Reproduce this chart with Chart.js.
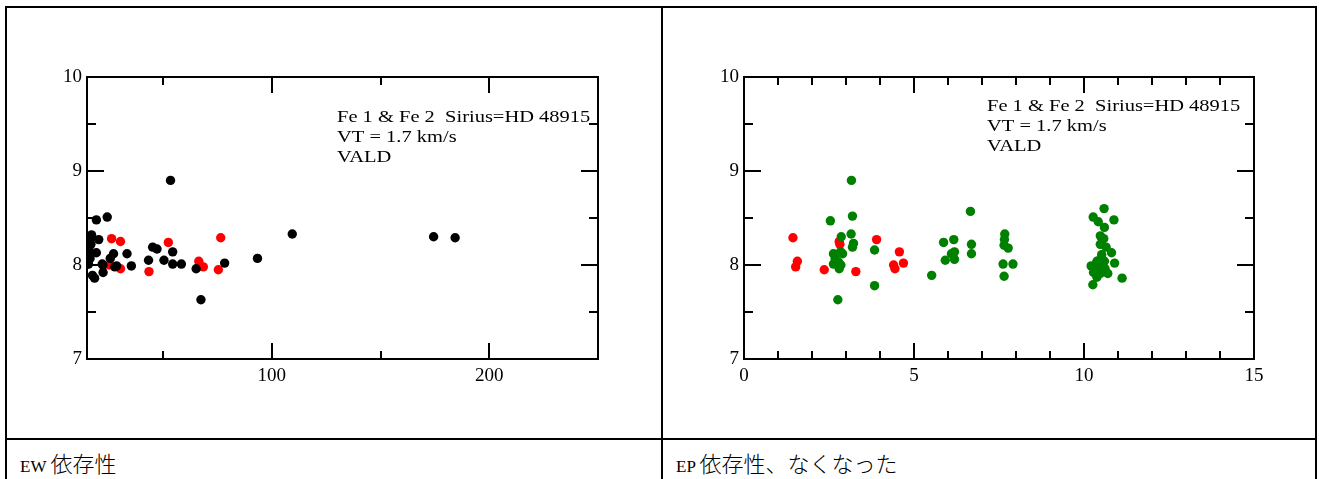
<!DOCTYPE html>
<html>
<head>
<meta charset="utf-8">
<script src="https://cdn.jsdelivr.net/npm/chart.js@4"></script>
<style>
  html, body { margin: 0; padding: 0; background: #fff; }
  body { width: 1319px; height: 479px; position: relative; overflow: hidden; }
  .line { position: absolute; background: #000; z-index: 2; }
  .cell { position: absolute; top: 0; height: 438px; }
  .caption {
    position: absolute; top: 448px; white-space: nowrap;
    font-family: "Liberation Serif", serif;
    font-size: 17px; line-height: 28px; color: #000;
  }
  .caption .jp { font-family: "Noto Sans CJK JP", sans-serif; font-size: 22px; font-weight: 300; }
</style>
</head>
<body>
<div class="line" style="left:5px; top:6px; width:1312px; height:2px;"></div>
<div class="line" style="left:5px; top:6px; width:2px; height:480px;"></div>
<div class="line" style="left:1315px; top:6px; width:2px; height:480px;"></div>
<div class="line" style="left:661px; top:6px; width:2px; height:480px;"></div>
<div class="line" style="left:5px; top:438px; width:1312px; height:2px;"></div>

<div class="cell" style="left:0px; width:660px;"><canvas id="ewChart" width="660" height="438"></canvas></div>
<div class="cell" style="left:660px; width:659px;"><canvas id="epChart" width="659" height="438"></canvas></div>

<div class="caption" style="left:20px;">EW <span class="jp">依存性</span></div>
<div class="caption" style="left:676px;">EP <span class="jp">依存性、なくなった</span></div>

<script>
// abundance vs equivalent width (Fe 1 black, Fe 2 red)
const ewFe1 = [
  [15.0, 8.01], [15.4, 8.06], [15.7, 8.01], [15.9, 8.19], [16.0, 8.14], [16.4, 8.07],
  [16.5, 8.27], [16.8, 8.22], [17.1, 8.32], [17.5, 7.89], [18.5, 7.86], [19.3, 8.48],
  [19.3, 8.13], [20.4, 8.27], [22.0, 8.01], [22.3, 8.00], [22.4, 7.92], [24.3, 8.51],
  [25.7, 8.07], [27.2, 8.12], [27.8, 7.98], [28.6, 7.99], [33.4, 8.12], [35.4, 7.99],
  [43.3, 8.05], [45.2, 8.19], [47.2, 8.17], [50.4, 8.05], [53.4, 8.90], [54.4, 8.14],
  [54.4, 8.01], [58.4, 8.01], [65.2, 7.96], [67.4, 7.63], [78.3, 8.02], [93.4, 8.07],
  [109.4, 8.33], [174.4, 8.30], [184.3, 8.29]
];
const ewFe2 = [
  [25.3, 8.00], [26.3, 8.28], [30.4, 8.25], [30.4, 7.96], [43.5, 7.93],
  [52.4, 8.24], [66.4, 8.04], [68.5, 7.98], [75.4, 7.95], [76.5, 8.29]
];

// abundance vs excitation potential (Fe 1 green, Fe 2 red)
const epFe1 = [
  [2.54, 8.47], [2.63, 8.12], [2.63, 8.01], [2.68, 8.07], [2.76, 7.63], [2.78, 8.03],
  [2.80, 7.96], [2.84, 8.14], [2.85, 8.00], [2.86, 8.30], [2.90, 8.12], [3.15, 8.33],
  [3.16, 8.90], [3.19, 8.52], [3.19, 8.19], [3.22, 8.23], [3.84, 8.16], [3.84, 7.78],
  [5.52, 7.89], [5.87, 8.24], [5.92, 8.05], [6.10, 8.12], [6.17, 8.27], [6.19, 8.14],
  [6.19, 8.06], [6.66, 8.57], [6.69, 8.22], [6.69, 8.12], [7.62, 8.01], [7.65, 8.21],
  [7.65, 7.88], [7.66, 8.27], [7.67, 8.33], [7.77, 8.18], [7.91, 8.01],
  [10.21, 7.99], [10.26, 7.79], [10.27, 8.51], [10.28, 7.92], [10.33, 7.96], [10.38, 8.04],
  [10.38, 7.87], [10.42, 8.46], [10.43, 7.99], [10.45, 7.95], [10.48, 8.31], [10.48, 8.22],
  [10.48, 8.06], [10.48, 7.91], [10.50, 8.00], [10.52, 8.11], [10.53, 7.98], [10.55, 8.02],
  [10.58, 8.28], [10.59, 8.60], [10.60, 8.40], [10.60, 8.04], [10.62, 7.96], [10.65, 8.19],
  [10.70, 7.91], [10.81, 8.13], [10.88, 8.48], [10.90, 8.02], [11.12, 7.86]
];
const epFe2 = [
  [1.44, 8.29], [1.52, 7.98], [1.57, 8.04], [2.36, 7.95], [2.80, 8.25], [2.82, 8.22],
  [3.29, 7.93], [3.90, 8.27], [4.40, 8.00], [4.44, 7.96], [4.57, 8.14], [4.69, 8.02]
];

const yTicks = [7, 7.5, 8, 8.5, 9, 9.5, 10];
const yLabels = [7, 8, 9, 10];
const ewTicks = [50, 100, 150, 200];
const ewLabels = [100, 200];
const epTicks = [0, 1, 2, 3, 4, 5, 6, 7, 8, 9, 10, 11, 12, 13, 14, 15];
const epLabels = [0, 5, 10, 15];
const noteLines = ["Fe 1 & Fe 2  Sirius=HD 48915", "VT = 1.7 km/s", "VALD"];

const serif = '"Liberation Serif", "Times New Roman", serif';

// frame, inward ticks on all four sides and the text block
const framePlugin = {
  id: 'frame',
  afterDraw: function(chart, args, opts) {
    const ctx = chart.ctx;
    const area = chart.chartArea;
    const xs = chart.scales.x;
    const ys = chart.scales.y;
    ctx.save();
    ctx.strokeStyle = '#000';
    ctx.lineWidth = 2;
    ctx.beginPath();
    xs.ticks.forEach(function(t) {
      const px = Math.round(xs.getPixelForValue(t.value));
      const len = t.label !== '' ? 16 : 8;
      ctx.moveTo(px, area.bottom);
      ctx.lineTo(px, area.bottom - len);
      ctx.moveTo(px, area.top);
      ctx.lineTo(px, area.top + len);
    });
    ys.ticks.forEach(function(t) {
      const py = Math.round(ys.getPixelForValue(t.value));
      const len = t.label !== '' ? 17 : 9;
      ctx.moveTo(area.left, py);
      ctx.lineTo(area.left + len, py);
      ctx.moveTo(area.right, py);
      ctx.lineTo(area.right - len, py);
    });
    ctx.stroke();
    ctx.strokeRect(area.left, area.top, area.right - area.left, area.bottom - area.top);

    // the source picture is stretched sideways, so is its text
    ctx.fillStyle = '#000';
    ctx.font = '17.5px ' + serif;
    ctx.textBaseline = 'middle';
    ctx.textAlign = 'left';
    ctx.translate(area.left + opts.dx, area.top + opts.dy);
    ctx.scale(1.17, 1);
    noteLines.forEach(function(line, i) {
      ctx.fillText(line, 0, i * 20);
    });
    ctx.restore();
  }
};

function makeChart(id, sets, xMin, xMax, xTicks, xLabels, pad, note) {
  return new Chart(document.getElementById(id), {
    type: 'scatter',
    data: {
      datasets: sets.map(function(s) {
        return {
          data: s.points.map(function(p) { return { x: p[0], y: p[1] }; }),
          backgroundColor: s.color,
          borderWidth: 0,
          pointRadius: 4.7,
          pointHoverRadius: 4.7
        };
      })
    },
    options: {
      responsive: false,
      animation: false,
      devicePixelRatio: 1,
      layout: { padding: pad },
      plugins: {
        legend: { display: false },
        tooltip: { enabled: false },
        frame: note
      },
      scales: {
        x: {
          type: 'linear',
          min: xMin,
          max: xMax,
          afterBuildTicks: function(scale) {
            scale.ticks = xTicks.map(function(v) { return { value: v }; });
          },
          afterFit: function(scale) { scale.height = 40; },
          grid: { display: false, drawTicks: false },
          border: { display: false },
          ticks: {
            autoSkip: false,
            maxRotation: 0,
            padding: 6,
            color: '#000',
            font: { family: serif, size: 19 },
            callback: function(v) { return xLabels.indexOf(v) >= 0 ? String(v) : ''; }
          }
        },
        y: {
          type: 'linear',
          min: 7,
          max: 10,
          afterBuildTicks: function(scale) {
            scale.ticks = yTicks.map(function(v) { return { value: v }; });
          },
          afterFit: function(scale) { scale.width = 60; },
          grid: { display: false, drawTicks: false },
          border: { display: false },
          ticks: {
            autoSkip: false,
            padding: 5,
            color: '#000',
            font: { family: serif, size: 19 },
            callback: function(v) { return yLabels.indexOf(v) >= 0 ? String(v) : ''; }
          }
        }
      }
    },
    plugins: [framePlugin]
  });
}

makeChart('ewChart',
  [{ points: ewFe1, color: '#000000' }, { points: ewFe2, color: '#ff0000' }],
  15, 250, ewTicks, ewLabels,
  { left: 27, top: 77, right: 62, bottom: 39 },
  { dx: 250, dy: 40 });

makeChart('epChart',
  [{ points: epFe1, color: '#008000' }, { points: epFe2, color: '#ff0000' }],
  0, 15, epTicks, epLabels,
  { left: 24, top: 77, right: 65, bottom: 39 },
  { dx: 243, dy: 29 });
</script>
</body>
</html>
